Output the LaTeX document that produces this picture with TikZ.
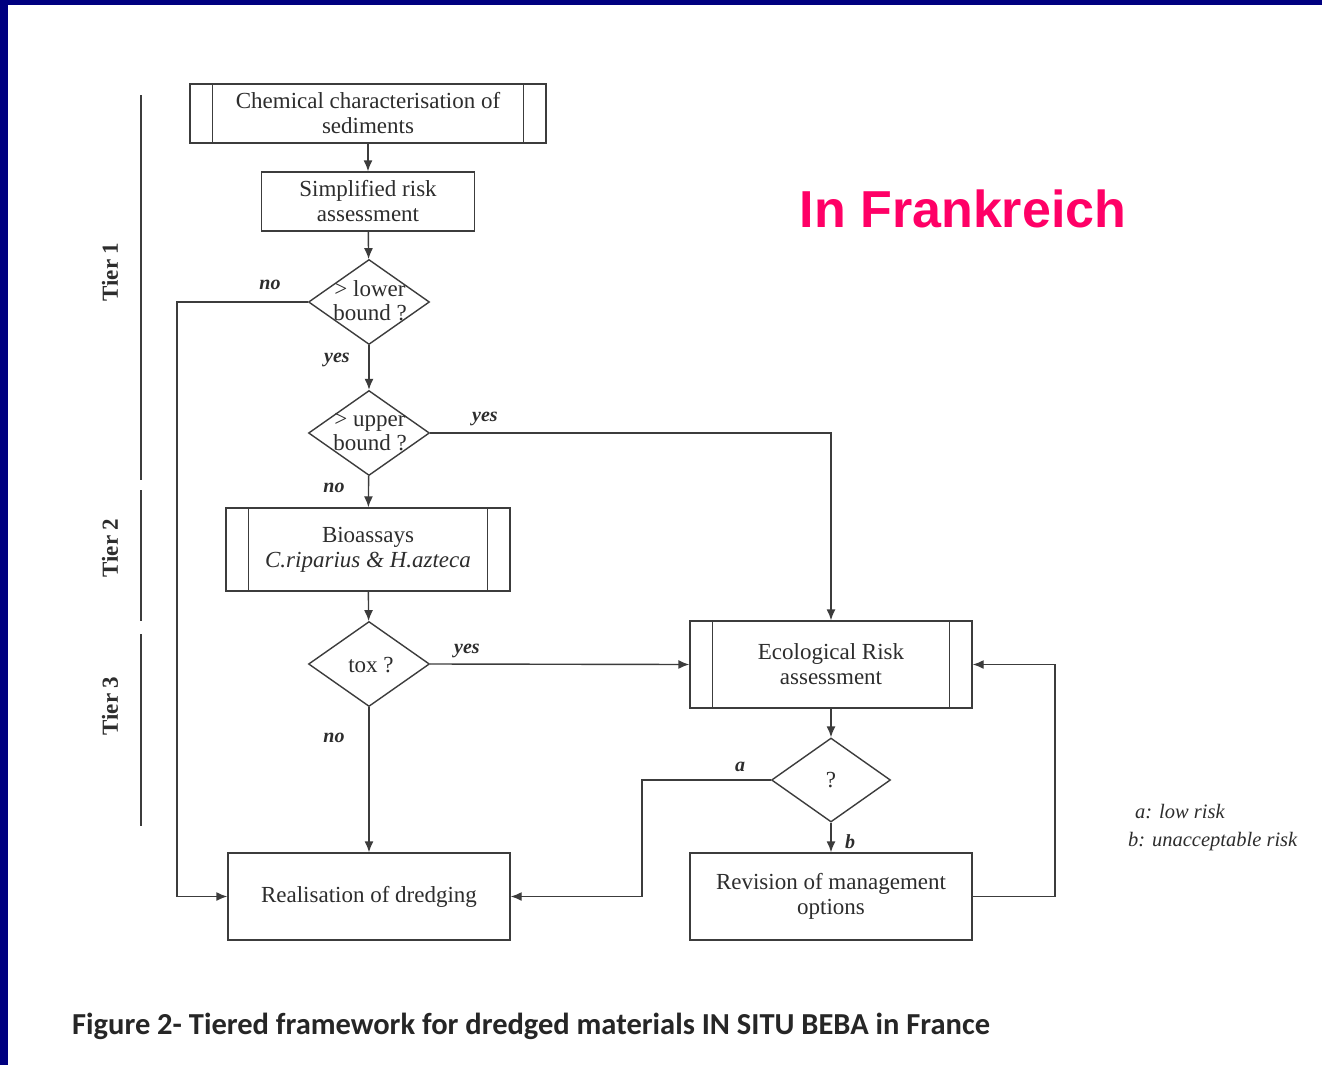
\documentclass[tikz,border=0pt]{standalone}
\usepackage{fontspec}
\setmainfont{Liberation Serif}
\newfontfamily\capfont{Carlito}
\newfontfamily\headfont{Liberation Sans}
\usetikzlibrary{shapes.geometric,arrows.meta,calc}

\definecolor{framenavy}{RGB}{0,0,128}
\definecolor{headpink}{RGB}{255,0,102}
\definecolor{ink}{RGB}{60,60,60}
\definecolor{txt}{RGB}{45,45,45}

\tikzset{
  wire/.style={draw=ink, line width=1.4pt},
  flow/.style={wire, -{Latex[length=11pt,width=9pt]}},
  procbox/.style={draw=ink, line width=1.4pt, rectangle, inner sep=0pt,
    align=center, text=txt, font=\fontsize{23}{25}\selectfont},
  decision/.style={draw=ink, line width=1.4pt, diamond, inner sep=0pt,
    minimum width=121pt, minimum height=85pt},
  dtext/.style={align=center, text=txt, inner sep=0pt,
    font=\fontsize{23}{24}\selectfont},
  answer/.style={text=txt, inner sep=0pt,
    font=\fontsize{20}{22}\selectfont\bfseries\itshape},
  tierlabel/.style={text=txt, inner sep=0pt, rotate=90,
    font=\fontsize{23}{25}\selectfont\bfseries},
  tierbar/.style={draw=ink, line width=2.2pt},
  legendtext/.style={text=txt, inner sep=0pt, anchor=west,
    font=\fontsize{20.5}{22}\selectfont\itshape}
}

\begin{document}
\begin{tikzpicture}[x=1pt,y=-1pt]
  % slide frame
  \fill[framenavy] (0,0) rectangle (1322,1065);
  \fill[white] (8,5) rectangle (1322,1065);
  \useasboundingbox (0,0) rectangle (1322,1065);

  % process boxes
  \node[procbox, minimum width=356pt, minimum height=59pt] (chem) at (368,113.5)
    {Chemical characterisation of\\sediments};
  \node[procbox, minimum width=213pt, minimum height=59pt] (simp) at (368,201.5)
    {Simplified risk\\assessment};
  \node[procbox, minimum width=284pt, minimum height=83pt] (bio) at (368,549.5)
    {Bioassays\\{\itshape C.riparius \& H.azteca}};
  \node[procbox, minimum width=282pt, minimum height=87pt] (real) at (369,896.5)
    {Realisation of dredging};
  \node[procbox, minimum width=282pt, minimum height=87pt] (eco) at (831,664.5)
    {Ecological Risk\\assessment};
  \node[procbox, minimum width=282pt, minimum height=87pt] (rev) at (831,896.5)
    {Revision of management\\options};

  % inner side bars of the predefined-process boxes
  \foreach \b in {chem,bio,eco}{
    \draw[wire] ([xshift=23pt]\b.north west) -- ([xshift=23pt]\b.south west);
    \draw[wire] ([xshift=-23pt]\b.north east) -- ([xshift=-23pt]\b.south east);
  }

  % decisions
  \node[decision] (low) at (369,302) {};
  \node[dtext] (lowtxt) at (370,301) {> lower\\bound ?};
  \node[decision] (up) at (369,433) {};
  \node[dtext] (uptxt) at (370,432) {> upper\\bound ?};
  \node[decision] (tox) at (369,664) {};
  \node[dtext] (toxtxt) at (371,665) {tox ?};
  \node[decision, minimum width=119pt, minimum height=84pt] (q) at (831,780) {};
  \node[dtext] (qtxt) at (831,780) {?};

  % bend points
  \coordinate (lowbend) at (177,302);
  \coordinate (abend) at (642,780);
  \coordinate (revbend) at (1055,896.5);

  % connectors
  \draw[flow] (chem) -- (simp);
  \draw[flow] (simp) -- (low);
  \draw[flow] (low) -- (up);
  \draw[flow] (up) -- (bio);
  \draw[flow] (bio) -- (tox);
  \draw[flow] (tox) -- (real);
  \draw[flow] (low.west) -- (lowbend) |- (real.west);
  \draw[flow] (up.east) -| (eco.north);
  \draw[flow] (tox.east) -- (eco.west);
  \draw[flow] (eco) -- (q);
  \draw[flow] (q) -- (rev);
  \draw[flow] (q.west) -- (abend) |- (real.east);
  \draw[flow] (rev.east) -- (revbend) |- (eco.east);

  % branch labels
  \node[answer] (lno) at (270,285) {no};
  \node[answer] (lyes) at (337,360) {yes};
  \node[answer] (uyes) at (485,419) {yes};
  \node[answer] (uno) at (334,488) {no};
  \node[answer] (tyes) at (467,651) {yes};
  \node[answer] (tno) at (334,738) {no};
  \node[answer] (qa) at (740,767) {a};
  \node[answer] (qb) at (850,842) {b};

  % tiers
  \draw[tierbar] (141,95) -- (141,480);
  \draw[tierbar] (141,490) -- (141,621);
  \draw[tierbar] (141,634) -- (141,826);
  \node[tierlabel] (t1) at (110,272) {Tier 1};
  \node[tierlabel] (t2) at (110,548) {Tier 2};
  \node[tierlabel] (t3) at (110,706) {Tier 3};

  % legend
  \node[legendtext] (lega) at (1135,812) {a: low risk};
  \node[legendtext] (legb) at (1128,842) {b: unacceptable risk};

  % heading and caption
  \node[text=headpink, inner sep=0pt, font=\headfont\fontsize{52}{56}\selectfont\bfseries]
    (head) at (963,209) {In Frankreich};
  \node[anchor=west, inner sep=0pt, text=black!85, font=\capfont\fontsize{30.5}{33}\selectfont\bfseries]
    (cap) at (72,1026) {Figure 2- Tiered framework for dredged materials IN SITU BEBA in France};
\end{tikzpicture}
\end{document}
